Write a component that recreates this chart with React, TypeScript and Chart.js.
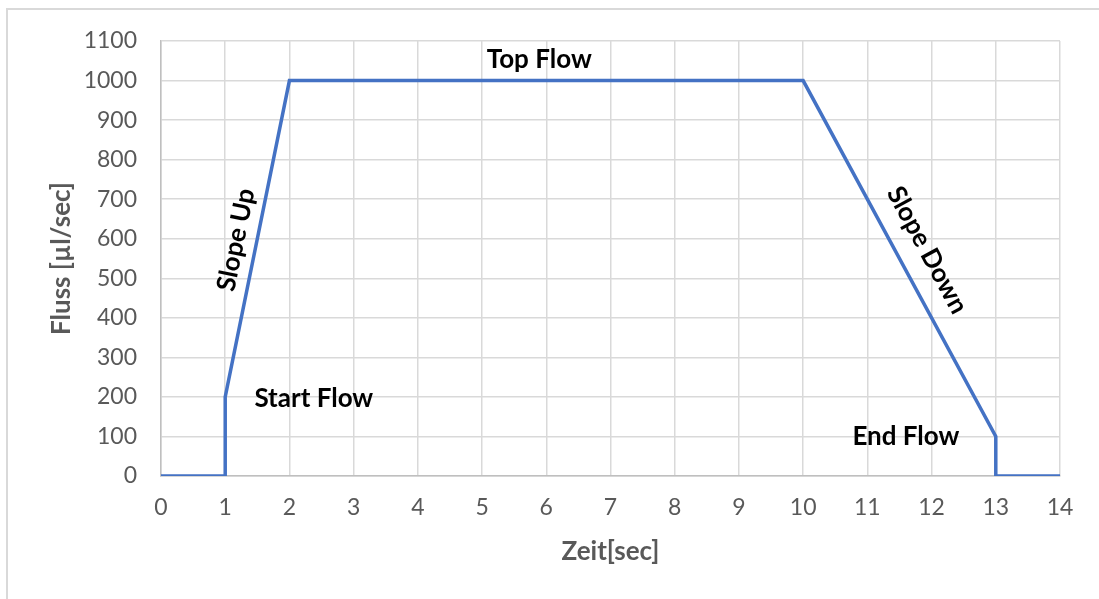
import React, { useEffect, useRef } from "react";
import { Chart, registerables } from "chart.js";

Chart.register(...registerables);

const timeValues = [0, 1, 1, 2, 10, 13, 13, 14];
const flowValues = [0, 0, 200, 1000, 1000, 100, 0, 0];

const annotationLabels = ["Top Flow", "Start Flow", "End Flow", "Slope Up", "Slope Down"];
const annotationX = [5.89, 2.38, 11.6, 1.17, 11.93];
const annotationY = [1054, 196, 100, 597, 571];
const annotationAngle = [0, 0, 0, -78.5, 61.5];

const xTitle = "Zeit[sec]";
const yTitle = "Fluss [µl/sec]";

const FONT = "Lato, 'Open Sans', sans-serif";

export default function App() {
  const ref = useRef<HTMLCanvasElement | null>(null);

  useEffect(() => {
    if (!ref.current) return;
    const framePlugin = {
      id: "frame",
      beforeDraw(chart: any) {
        const ctx = chart.ctx;
        ctx.save();
        ctx.fillStyle = "#ffffff";
        ctx.fillRect(0, 0, chart.width, chart.height);
        ctx.strokeStyle = "#d9d9d9";
        ctx.lineWidth = 2;
        ctx.strokeRect(7, 9, 3000, 3000);
        ctx.restore();
      },
    };
    const labelPlugin = {
      id: "labels",
      afterDatasetsDraw(chart: any) {
        const ctx = chart.ctx;
        const xs = chart.scales.x;
        const ys = chart.scales.y;
        ctx.save();
        ctx.fillStyle = "#000000";
        ctx.font = `bold 26px ${FONT}`;
        ctx.textAlign = "center";
        ctx.textBaseline = "middle";
        annotationLabels.forEach((t, i) => {
          const px = xs.getPixelForValue(annotationX[i]);
          const py = ys.getPixelForValue(annotationY[i]);
          ctx.save();
          ctx.translate(px, py);
          ctx.rotate((annotationAngle[i] * Math.PI) / 180);
          ctx.fillText(t, 0, 0);
          ctx.restore();
        });
        ctx.restore();
      },
    };
    const chart = new Chart(ref.current, {
      type: "line",
      data: {
        datasets: [
          {
            data: timeValues.map((x, i) => ({ x, y: flowValues[i] })),
            borderColor: "#4472C4",
            borderWidth: 3.5,
            pointRadius: 0,
            tension: 0,
            fill: false,
          },
        ],
      },
      options: {
        animation: false,
        responsive: false,
        maintainAspectRatio: false,
        layout: { padding: { top: 41, right: 39, left: 0, bottom: 0 } },
        plugins: { legend: { display: false }, tooltip: { enabled: false } },
        scales: {
          x: {
            type: "linear",
            min: 0,
            max: 14,
            afterFit: (s: any) => {
              s.height = 123;
            },
            ticks: {
              stepSize: 1,
              padding: 18,
              color: "#595959",
              font: { family: FONT, size: 23 },
              callback: (v: any) => String(v),
            },
            grid: { color: "#d9d9d9", lineWidth: 1.5, drawTicks: false },
            border: { color: "#bfbfbf", width: 1.5 },
            title: {
              display: true,
              text: xTitle,
              color: "#595959",
              font: { family: FONT, size: 26, weight: "bold" },
              padding: { top: 0, bottom: 32 },
            },
          },
          y: {
            min: 0,
            max: 1100,
            afterFit: (s: any) => {
              s.width = 161;
            },
            ticks: {
              stepSize: 100,
              padding: 24,
              color: "#595959",
              font: { family: FONT, size: 23 },
              callback: (v: any) => String(v),
            },
            grid: { color: "#d9d9d9", lineWidth: 1.5, drawTicks: false },
            border: { color: "#bfbfbf", width: 1.5 },
            title: {
              display: true,
              text: yTitle,
              color: "#595959",
              font: { family: FONT, size: 26, weight: "bold" },
              padding: { top: 46, bottom: 0 },
            },
          },
        },
      },
      plugins: [framePlugin, labelPlugin],
    } as any);
    return () => chart.destroy();
  }, []);

  return (
    <div style={{ position: "fixed", left: 0, top: 0, width: 1099, height: 599 }}>
      <canvas ref={ref} width={1099} height={599} style={{ display: "block" }} />
    </div>
  );
}
